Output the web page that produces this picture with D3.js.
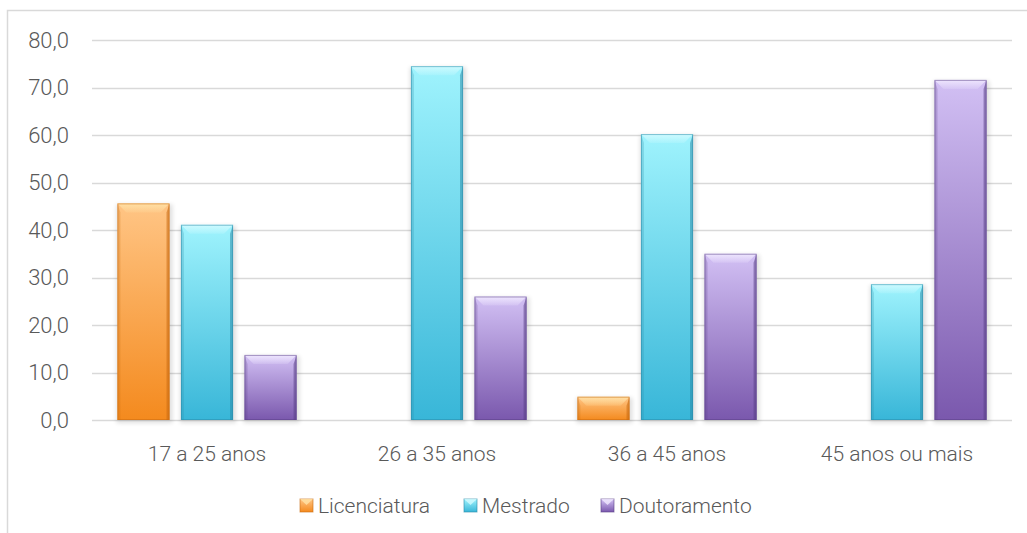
<!DOCTYPE html>
<html>
<head>
<meta charset="utf-8">
<script src="https://cdn.jsdelivr.net/npm/d3@7"></script>
<style>
  html, body { margin: 0; padding: 0; background: #fff; }
  svg { display: block; font-family: Roboto, "Open Sans", sans-serif; font-weight: 300; }
</style>
</head>
<body>
<svg id="chart" width="1027" height="533"></svg>
<script>
// Age groups and the three degree series (percent)
const categories = ["17 a 25 anos", "26 a 35 anos", "36 a 45 anos", "45 anos ou mais"];
const seriesNames = ["Licenciatura", "Mestrado", "Doutoramento"];
const licenciatura = [45.6, 0, 4.9, 0];
const mestrado = [41.1, 74.5, 60.2, 28.6];
const doutoramento = [13.7, 26.0, 35.0, 71.6];
const yTicks = [0, 10, 20, 30, 40, 50, 60, 70, 80];

const seriesValues = [licenciatura, mestrado, doutoramento];
const palette = [
  { top: "#ffc585", bottom: "#f48a1e", edge: "#c86a10", hi: "#ffe3a8" },
  { top: "#9ff3fd", bottom: "#38b6d8", edge: "#2a8aa8", hi: "#d4fbff" },
  { top: "#d2c0f4", bottom: "#7a58ad", edge: "#5a3f86", hi: "#f1eaff" }
];

const svg = d3.select("#chart");
const W = 1027, H = 533;
const m = { left: 92, right: 1012, top: 40, bottom: 420 };

// outer frame
svg.append("path")
  .attr("d", `M7.5,${H} V10.5 H${W}`)
  .attr("fill", "none").attr("stroke", "#d9d9d9").attr("stroke-width", 1.5);

const y = d3.scaleLinear().domain([0, 80]).range([m.bottom, m.top]);
const x0 = d3.scaleBand().domain(categories).range([m.left, m.right]);
const x1 = d3.scaleBand().domain(seriesNames).range([0, x0.bandwidth()])
  .paddingInner(0.18).paddingOuter(0.40);

// gradients
const defs = svg.append("defs");
palette.forEach((p, i) => {
  const g = defs.append("linearGradient").attr("id", "grad" + i)
    .attr("x1", 0).attr("y1", 0).attr("x2", 0).attr("y2", 1);
  g.append("stop").attr("offset", "0%").attr("stop-color", p.top);
  g.append("stop").attr("offset", "100%").attr("stop-color", p.bottom);
  const h = defs.append("linearGradient").attr("id", "hi" + i)
    .attr("x1", 0).attr("y1", 0).attr("x2", 0).attr("y2", 1);
  h.append("stop").attr("offset", "0%").attr("stop-color", p.hi).attr("stop-opacity", 1);
  h.append("stop").attr("offset", "100%").attr("stop-color", p.hi).attr("stop-opacity", 0.2);
});
const blur = defs.append("filter").attr("id", "shadow")
  .attr("x", "-20%").attr("y", "-20%").attr("width", "140%").attr("height", "140%");
blur.append("feGaussianBlur").attr("stdDeviation", 2);

// gridlines
svg.append("g").selectAll("line").data(yTicks).join("line")
  .attr("x1", m.left).attr("x2", m.right)
  .attr("y1", d => Math.round(y(d)) + 0.5).attr("y2", d => Math.round(y(d)) + 0.5)
  .attr("stroke", "#d9d9d9").attr("stroke-width", 1.5);

// y axis labels
const fmt = d => d.toFixed(1).replace(".", ",");
svg.append("g").selectAll("text").data(yTicks).join("text")
  .attr("x", 69).attr("y", d => y(d)).attr("dy", "0.36em")
  .attr("text-anchor", "end").attr("font-size", 22).attr("fill", "#595959")
  .text(fmt);

// bars
const groups = svg.append("g").selectAll("g").data(categories).join("g")
  .attr("transform", d => `translate(${x0(d)},0)`);

groups.each(function (cat, ci) {
  const g = d3.select(this);
  seriesNames.forEach((s, si) => {
    const v = seriesValues[si][ci];
    if (!v) return;
    const bx = x1(s), bw = x1.bandwidth();
    const by = y(v), bh = y(0) - y(v);
    const bev = Math.min(9, bh / 2);
    const p = palette[si];
    // soft shadow
    g.append("rect").attr("x", bx - 1).attr("y", by + 1).attr("width", bw + 4).attr("height", bh + 2)
      .attr("fill", "#000").attr("opacity", 0.12).attr("filter", "url(#shadow)");
    // body
    g.append("rect").attr("x", bx).attr("y", by).attr("width", bw).attr("height", bh)
      .attr("fill", `url(#grad${si})`);
    // top bevel highlight
    g.append("path")
      .attr("d", `M${bx},${by} H${bx + bw} L${bx + bw - bev},${by + bev} H${bx + bev} Z`)
      .attr("fill", `url(#hi${si})`).attr("opacity", 0.9);
    // left bevel
    g.append("path")
      .attr("d", `M${bx},${by} L${bx + 3},${by + bev} V${by + bh} H${bx} Z`)
      .attr("fill", p.edge).attr("opacity", 0.25);
    // right bevel
    g.append("path")
      .attr("d", `M${bx + bw},${by} L${bx + bw - 3},${by + bev} V${by + bh} H${bx + bw} Z`)
      .attr("fill", p.edge).attr("opacity", 0.55);
    // outline
    g.append("rect").attr("x", bx + 0.5).attr("y", by + 0.5).attr("width", bw - 1).attr("height", bh - 1)
      .attr("fill", "none").attr("stroke", p.edge).attr("stroke-opacity", 0.5);
  });
});

// category axis labels
svg.append("g").selectAll("text").data(categories).join("text")
  .attr("x", d => x0(d) + x0.bandwidth() / 2).attr("y", 453).attr("dy", "0.36em")
  .attr("text-anchor", "middle").attr("font-size", 21).attr("fill", "#595959")
  .text(d => d);

// legend
const legendX = [300, 464, 601];
const leg = svg.append("g").selectAll("g").data(seriesNames).join("g")
  .attr("transform", (d, i) => `translate(${legendX[i]},499)`);
leg.append("rect").attr("width", 13).attr("height", 13)
  .attr("fill", (d, i) => `url(#grad${i})`)
  .attr("stroke", (d, i) => palette[i].edge).attr("stroke-opacity", 0.6);
leg.append("path").attr("d", "M0,0 H13 L6.5,6 Z")
  .attr("fill", (d, i) => palette[i].hi).attr("opacity", 0.8);
leg.append("text").attr("x", 18).attr("y", 6.5).attr("dy", "0.36em")
  .attr("font-size", 21).attr("fill", "#595959").text(d => d);
</script>
</body>
</html>
